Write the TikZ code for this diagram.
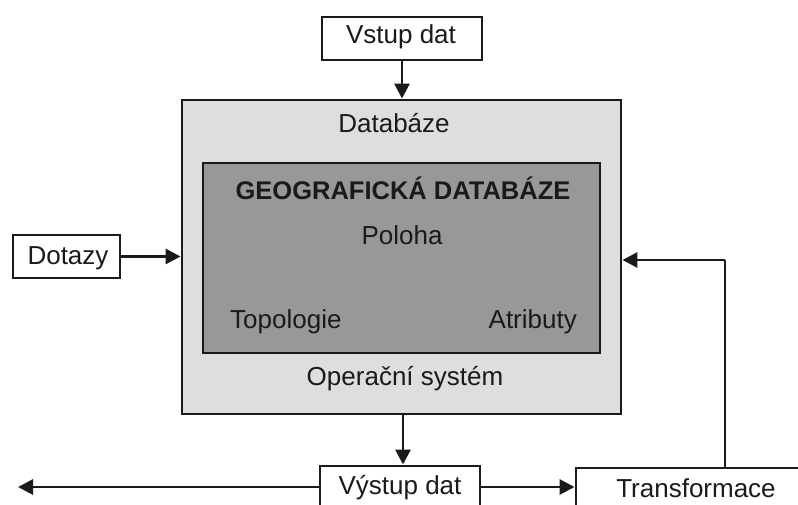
\documentclass[tikz,border=0pt]{standalone}
\usepackage{fontspec}
\setmainfont{Liberation Sans}
\usetikzlibrary{arrows.meta}
\definecolor{ink}{HTML}{1A1A1A}
\definecolor{outerfill}{HTML}{DEDEDE}
\definecolor{innerfill}{HTML}{999897}
\begin{document}
\begin{tikzpicture}[x=1pt,y=-1pt,
  every node/.style={font=\fontsize{26}{30}\selectfont, text=ink, inner sep=0pt},
  box/.style={draw=ink, line width=2.9pt, fill=white, minimum width=#1, anchor=center},
  lbl/.style={anchor=base},
  conn/.style={draw=ink, line width=2.9pt, -{Triangle[length=15pt,width=15pt]}},
  plain/.style={draw=ink, line width=2.9pt}]
\useasboundingbox (0,0) rectangle (798,505);
\clip (0,0) rectangle (798,505);

% main database frame and the geographic database inside it
\node[box=439pt, fill=outerfill, minimum height=314pt] (outer) at (401.5,257) {};
\node[box=397pt, fill=innerfill, minimum height=190pt] (inner) at (401.5,258) {};
\node[lbl] (tdb) at (394,133) {Databáze};
\node[lbl, font=\fontsize{25.5}{30}\selectfont\bfseries] (tgeo) at (403,200) {GEOGRAFICKÁ DATABÁZE};
\node[lbl] (tpol) at (402,245) {Poloha};
\node[lbl, anchor=base west] (ttop) at (230,328) {Topologie};
\node[lbl, anchor=base east] (tatr) at (577,328) {Atributy};
\node[lbl] (tos) at (405,385) {Operační systém};

% surrounding boxes
\node[box=160pt, minimum height=43pt] (vstup) at (402,38.5) {};
\node[lbl] (tvstup) at (401,44) {Vstup dat};
\node[box=107pt, minimum height=43pt] (dotazy) at (66.5,256.5) {};
\node[lbl] (tdotazy) at (68,265) {Dotazy};
\node[box=160pt, minimum height=50pt] (vystup) at (400,491) {};
\node[lbl] (tvystup) at (400,494) {Výstup dat};
\node[box=226pt, minimum height=50pt] (transf) at (689,493) {};
\node[lbl] (ttransf) at (696,497) {Transformace};

\coordinate (outleft) at (18,487);
\coordinate (corner) at (725,260);

% connectors
\draw[conn] (vstup.south) -- (vstup.south |- outer.north);
\draw[conn] (dotazy.east) -- (dotazy.east -| outer.west);
\draw[conn] (403,0 |- outer.south) -- (403,0 |- vystup.north);
\draw[conn] (vystup.west |- outleft) -- (outleft);
\draw[conn] (vystup.east |- 0,487) -- (transf.west |- 0,487);
\draw[plain] (corner |- transf.north) -- (corner);
\draw[conn] (corner) -- (corner -| outer.east);
\end{tikzpicture}
\end{document}
